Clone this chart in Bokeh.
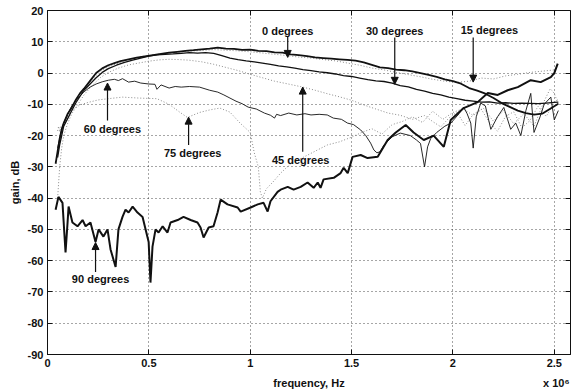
from bokeh.plotting import figure
from bokeh.models import Range1d, FixedTicker, Label, Arrow, NormalHead, LinearAxis
from bokeh.embed import file_html
from bokeh.resources import INLINE

# ---------------- data (frequency in units of 1e6 Hz, gain in dB) ----------------
freq_0 = [0.04,0.05,0.06,0.07,0.08,0.10,0.12,0.14,0.16,0.18,0.21,0.24,0.27,0.30,0.33,0.36,0.40,0.44,0.48,0.52,
          0.56,0.60,0.64,0.68,0.72,0.76,0.80,0.84,0.88,0.92,0.96,1.00,1.04,1.08,1.12,1.16,1.20,1.24,1.28,1.32,
          1.36,1.40,1.44,1.48,1.52,1.56,1.60,1.64,1.68,1.72,1.76,1.80,1.84,1.88,1.92,1.96,2.00,2.04,2.08,2.12,
          2.16,2.20,2.24,2.28,2.32,2.36,2.40,2.44,2.48,2.52]
gain_0 = [-29,-25,-21,-18,-16,-13,-11,-8.5,-6.5,-5,-2.5,0,1.5,2.5,3.2,3.8,4.4,4.9,5.3,5.7,
          6.1,6.5,6.8,7.1,7.3,7.6,7.8,8.1,7.8,7.7,7.4,7.5,7.1,7.0,6.6,6.5,6.0,5.7,5.4,5.0,
          4.8,4.6,4.4,4.2,4.0,3.4,2.6,1.8,1.6,1.1,0.9,0.5,0.0,-0.6,-1.2,-2.0,-2.6,-3.4,-4.8,-5.6,
          -6.6,-8.0,-9.6,-10.8,-12.0,-12.8,-13.3,-13.0,-11.4,-9.8]

freq_15 = [0.05,0.07,0.09,0.12,0.15,0.18,0.22,0.26,0.30,0.35,0.40,0.46,0.52,0.58,0.64,0.70,0.76,0.82,0.88,0.94,
           1.00,1.06,1.12,1.18,1.24,1.30,1.36,1.42,1.48,1.54,1.60,1.66,1.72,1.78,1.84,1.90,1.96,2.02,2.08,2.14,
           2.20,2.26,2.32,2.38,2.44,2.50]
gain_15 = [-26,-19,-15,-11,-7.5,-5,-2,0.5,2,3.2,4.3,5.2,5.8,6.3,6.6,7,7.2,7.5,7.3,7.1,
           6.8,6.4,6,5.6,5.1,4.8,4.3,3.9,3.2,2.5,1.6,1.0,0.2,-0.5,-1.2,-2.0,-2.6,-3.0,-2.6,-1.6,
           -1.9,-0.9,-0.4,0.2,0.6,1.0]

freq_30 = [0.05,0.06,0.07,0.08,0.10,0.12,0.14,0.16,0.18,0.21,0.24,0.27,0.30,0.34,0.38,0.42,0.46,0.50,0.54,0.58,
           0.62,0.66,0.70,0.74,0.78,0.82,0.86,0.90,0.94,0.98,1.02,1.06,1.10,1.14,1.18,1.22,1.26,1.30,1.34,1.38,
           1.42,1.46,1.50,1.54,1.58,1.62,1.66,1.70,1.74,1.78,1.82,1.86,1.90,1.94,1.98,2.02,2.06,2.10,2.14,2.18,
           2.22,2.26,2.30,2.34,2.38,2.42,2.46,2.50,2.52]
gain_30 = [-27,-23,-20,-17,-14.5,-12,-9.5,-7.5,-5.5,-3.5,-1.5,0.2,1.4,2.5,3.4,4.1,4.8,5.4,5.8,6.0,
           6.1,6.3,6.5,6.4,6.5,6.3,5.6,4.8,4.3,3.9,3.6,3.2,2.8,2.3,2.0,1.6,1.1,0.8,0.4,0.1,
           -0.3,-0.8,-1.1,-1.6,-2.1,-2.5,-2.7,-3.2,-4.0,-4.4,-5.2,-5.8,-6.5,-7.0,-7.7,-8.2,-8.7,-9.0,-9.3,-9.2,
           -9.6,-9.5,-9.7,-9.6,-9.7,-9.8,-9.6,-9.4,-9.3]

freq_45 = [0.05,0.06,0.07,0.08,0.10,0.12,0.15,0.18,0.22,0.26,0.30,0.35,0.40,0.45,0.50,0.55,0.60,0.65,0.70,0.76,
           0.82,0.88,0.94,1.00,1.06,1.12,1.18,1.26,1.32,1.38,1.44,1.50,1.56,1.62,1.68,1.74,1.80,1.86,1.90,1.94,
           1.98,2.02,2.06,2.10,2.14,2.18,2.22,2.26,2.30,2.34,2.38,2.42,2.46,2.50,2.52]
gain_45 = [-40,-30,-24,-20,-16,-13,-10,-7,-4,-1.5,0.2,1.6,2.6,3.2,3.8,4.2,4.4,4.3,4.1,3.6,
           2.8,1.8,0.8,-0.4,-1.5,-2.6,-3.4,-4.5,-5.5,-6.6,-7.6,-8.7,-10.2,-11.5,-12.8,-13.5,-14.8,-13.6,-15.5,-17.2,
           -14.4,-12.5,-16.8,-13.2,-11.6,-15.8,-18.6,-13.8,-12.4,-17.5,-15.2,-10.6,-13.9,-9.4,-8.2]

freq_60 = [0.05,0.06,0.07,0.08,0.10,0.12,0.15,0.18,0.21,0.24,0.27,0.30,0.33,0.35,0.37,0.40,0.43,0.46,0.50,0.53,
           0.54,0.56,0.60,0.63,0.66,0.70,0.75,0.80,0.84,0.87,0.90,0.93,0.96,0.99,1.03,1.07,1.10,1.12,1.13,1.15,
           1.19,1.23,1.27,1.30,1.34,1.38,1.41,1.45,1.48,1.51,1.545,1.57,1.594,1.61,1.625,1.64,1.66,1.70,1.74,1.79,
           1.82,1.84,1.86,1.875,1.89,1.92,1.96,1.99,2.03,2.053,2.07,2.088,2.10,2.115,2.137,2.16,2.187,2.22,2.251,2.285,
           2.31,2.335,2.36,2.384,2.40,2.43,2.45,2.483,2.50,2.52]
gain_60 = [-24,-21,-18,-16,-13,-10.5,-8,-6,-4.5,-3.5,-2.8,-2.3,-2.0,-2.4,-1.8,-2.9,-2.6,-3.2,-3.5,-3.6,
           -5.2,-3.8,-4.8,-4.3,-4.5,-4.3,-4.5,-5.5,-6.1,-7,-8,-9,-9.8,-10.9,-11.5,-12.8,-13.5,-14.4,-13.2,-13.6,
           -12.8,-13.4,-13.0,-13.4,-13.2,-13.4,-14.4,-14.8,-16,-16.5,-18.2,-20,-22.4,-24.6,-25.5,-25.2,-23,-20.4,-19.2,-20,
           -21.4,-22.5,-30,-23.6,-21,-19,-17,-16,-13,-10.9,-13,-16,-24,-14,-9.6,-10.5,-18,-14,-11,-18,
           -16,-20,-12,-6.5,-19,-14,-10,-7.7,-15,-12]

freq_75 = [0.05,0.055,0.06,0.065,0.07,0.08,0.10,0.13,0.16,0.20,0.25,0.30,0.37,0.45,0.54,0.60,0.65,0.69,0.75,0.80,
           0.85,0.90,0.95,1.00,1.02,1.04,1.05,1.06,1.08,1.11,1.15,1.20,1.26,1.32,1.38,1.44,1.50,1.55,1.60,1.65,
           1.70,1.75,1.80,1.85,1.90,1.95,2.00,2.05,2.10,2.15,2.20,2.25,2.30,2.35,2.40,2.45,2.48,2.50,2.52]
gain_75 = [-18.5,-17,-18.8,-17.2,-19,-16,-13.5,-11.5,-10.2,-9.4,-8.6,-8.2,-7.7,-8.0,-8.2,-10,-12.4,-14.2,-12.6,-11.8,
           -11.2,-12.5,-16,-19,-25.5,-30,-38,-40,-37,-35,-32,-29,-27,-25,-23,-22,-20.5,-19,-17.8,-19.5,
           -16.5,-15.5,-14,-15.8,-12.2,-14.8,-12.6,-11.4,-13.6,-11.2,-15.4,-12,-16.2,-13,-17,-9,-5,-6.5,-10]

freq_90 = [0.04,0.054,0.074,0.079,0.089,0.099,0.104,0.123,0.148,0.173,0.188,0.212,0.237,0.252,0.276,0.296,0.311,0.336,0.35,0.37,
           0.385,0.40,0.42,0.444,0.469,0.484,0.499,0.508,0.518,0.533,0.548,0.568,0.592,0.607,0.642,0.671,0.706,0.74,0.755,0.77,
           0.795,0.819,0.839,0.854,0.888,0.938,0.953,1.002,1.037,1.066,1.086,1.10,1.135,1.15,1.185,1.214,1.249,1.283,1.313,1.333,
           1.347,1.362,1.412,1.446,1.461,1.481,1.505,1.545,1.579,1.629,1.678,1.718,1.767,1.806,1.856,1.905,1.955,1.989,2.053,2.122,
           2.172,2.221,2.27,2.32,2.384,2.433,2.483,2.50,2.517]
gain_90 = [-43.7,-39.6,-41.5,-46.9,-57.4,-47.8,-42.7,-47.8,-49,-47,-49,-47.8,-54,-50,-52.3,-50,-56.4,-62,-50,-46,
           -43.7,-44.6,-42.7,-44.6,-46,-50,-54,-67,-55.5,-50,-51,-49,-51,-47.8,-47,-46,-47,-47.8,-49.4,-52.6,
           -49.4,-49,-44.6,-40.5,-42,-43,-44.3,-43,-42,-41.5,-44.3,-41,-38,-37.3,-36.4,-37.3,-36.4,-35,-36.7,-35,
           -36.7,-34,-33.5,-32,-30.3,-32,-26.8,-26.2,-27.2,-26.8,-21.4,-19,-16.6,-19,-21.4,-20,-23.6,-15,-11.2,-9.3,
           -6.4,-7,-5.5,-4.5,-2.3,-2.9,-1.3,0,3]

x_ticks = [0, 0.5, 1, 1.5, 2, 2.5]
x_tick_labels = ["0", "0.5", "1", "1.5", "2", "2.5"]
y_ticks = [-90, -80, -70, -60, -50, -40, -30, -20, -10, 0, 10, 20]
y_tick_labels = ["-90", "-80", "-70", "-60", "-50", "-40", "-30", "-20", "-10", "0", "10", "20"]
x_title = "frequency, Hz"
x_multiplier = "x 10\u2076"
y_title = "gain, dB"

FONT = "Liberation Sans"
INK = "#111111"
FAINT = "#8a8a8a"

p = figure(width=573, height=391, output_backend="svg", toolbar_location=None,
           x_range=Range1d(0, 2.58), y_range=Range1d(-90, 20),
           min_border_left=47, min_border_right=3, min_border_top=10, min_border_bottom=35,
           background_fill_color="white", border_fill_color="white")

p.outline_line_color = INK
p.outline_line_width = 1

# axes
for ax, ticks, labels in ((p.xaxis[0], x_ticks, x_tick_labels), (p.yaxis[0], y_ticks, y_tick_labels)):
    ax.ticker = FixedTicker(ticks=ticks)
    ax.major_label_overrides = {t: l for t, l in zip(ticks, labels)}
    ax.major_label_text_font = FONT
    ax.major_label_text_font_style = "bold"
    ax.major_label_text_font_size = "11px"
    ax.major_label_text_color = INK
    ax.major_tick_in = 5
    ax.major_tick_out = 0
    ax.minor_tick_line_color = None
    ax.axis_line_color = INK
    ax.major_tick_line_color = INK
    ax.axis_label_text_font = FONT
    ax.axis_label_text_font_style = "bold"
    ax.axis_label_text_font_size = "11px"
    ax.axis_label_text_color = INK

p.xaxis[0].major_label_standoff = 4
p.yaxis[0].axis_label = y_title
p.yaxis[0].major_label_standoff = 4
p.yaxis[0].axis_label_standoff = 4

# second row below the x axis: axis title (centred) and the x 10^6 multiplier (right)
title_pos = {1.29: x_title, 2.51: x_multiplier}
xt = LinearAxis(ticker=FixedTicker(ticks=list(title_pos.keys())),
                major_label_overrides=title_pos,
                axis_line_color=None, major_tick_line_color=None, minor_tick_line_color=None,
                major_label_standoff=1, major_label_text_font=FONT, major_label_text_font_style="bold",
                major_label_text_font_size="11px", major_label_text_color=INK)
p.add_layout(xt, "below")

# grid: dotted
p.xgrid.ticker = FixedTicker(ticks=x_ticks[1:])
p.ygrid.ticker = FixedTicker(ticks=y_ticks[1:-1])
for g in (p.xgrid, p.ygrid):
    g.grid_line_color = INK
    g.grid_line_alpha = 0.75
    g.grid_line_dash = "1 3"
    g.grid_line_width = 1

# box ticks on top and right (no labels drawn)
right = LinearAxis(ticker=FixedTicker(ticks=y_ticks), major_label_text_font_size="1px",
                   major_label_text_color=None,
                   axis_line_color=None, major_tick_in=5, major_tick_out=0, major_label_standoff=0,
                   minor_tick_line_color=None, major_tick_line_color=INK)
top = LinearAxis(ticker=FixedTicker(ticks=x_ticks), major_label_text_font_size="1px",
                 major_label_text_color=None,
                 axis_line_color=None, major_tick_in=5, major_tick_out=0, major_label_standoff=0,
                 minor_tick_line_color=None, major_tick_line_color=INK)
p.add_layout(right, "right")
p.add_layout(top, "above")

# curves
p.line(freq_75, gain_75, line_color=FAINT, line_width=1, line_dash="1 2")
p.line(freq_45, gain_45, line_color=FAINT, line_width=1, line_dash="1 2")
p.line(freq_15, gain_15, line_color=FAINT, line_width=1, line_dash="1 2")
p.line(freq_60, gain_60, line_color=INK, line_width=0.9)
p.line(freq_30, gain_30, line_color=INK, line_width=1.3)
p.line(freq_0, gain_0, line_color=INK, line_width=1.8)
p.line(freq_90, gain_90, line_color=INK, line_width=2.0)

# annotations: (label, text x, text y, arrow x, arrow start y, arrow end y)
notes = [
    ("0 degrees", 1.185, 13.6, 1.185, 11.6, 5.0),
    ("30 degrees", 1.713, 13.6, 1.713, 11.4, -3.6),
    ("15 degrees", 2.18, 13.9, 2.10, 11.4, -2.9),
    ("60 degrees", 0.32, -17.9, 0.296, -15.2, -3.2),
    ("75 degrees", 0.716, -25.5, 0.696, -23.0, -14.1),
    ("45 degrees", 1.249, -27.8, 1.259, -25.2, -4.5),
    ("90 degrees", 0.262, -66.0, 0.237, -63.6, -54.2),
]
for txt, tx, ty, ax_, ys, ye in notes:
    p.add_layout(Label(x=tx, y=ty, text=txt, text_align="center", text_baseline="middle",
                       text_font=FONT, text_font_style="bold", text_font_size="11px",
                       text_color=INK))
    p.add_layout(Arrow(end=NormalHead(size=7, fill_color=INK, line_color=INK),
                       x_start=ax_, y_start=ys, x_end=ax_, y_end=ye,
                       line_color=INK, line_width=1.2))

open("out.html", "w").write(file_html(p, INLINE))
